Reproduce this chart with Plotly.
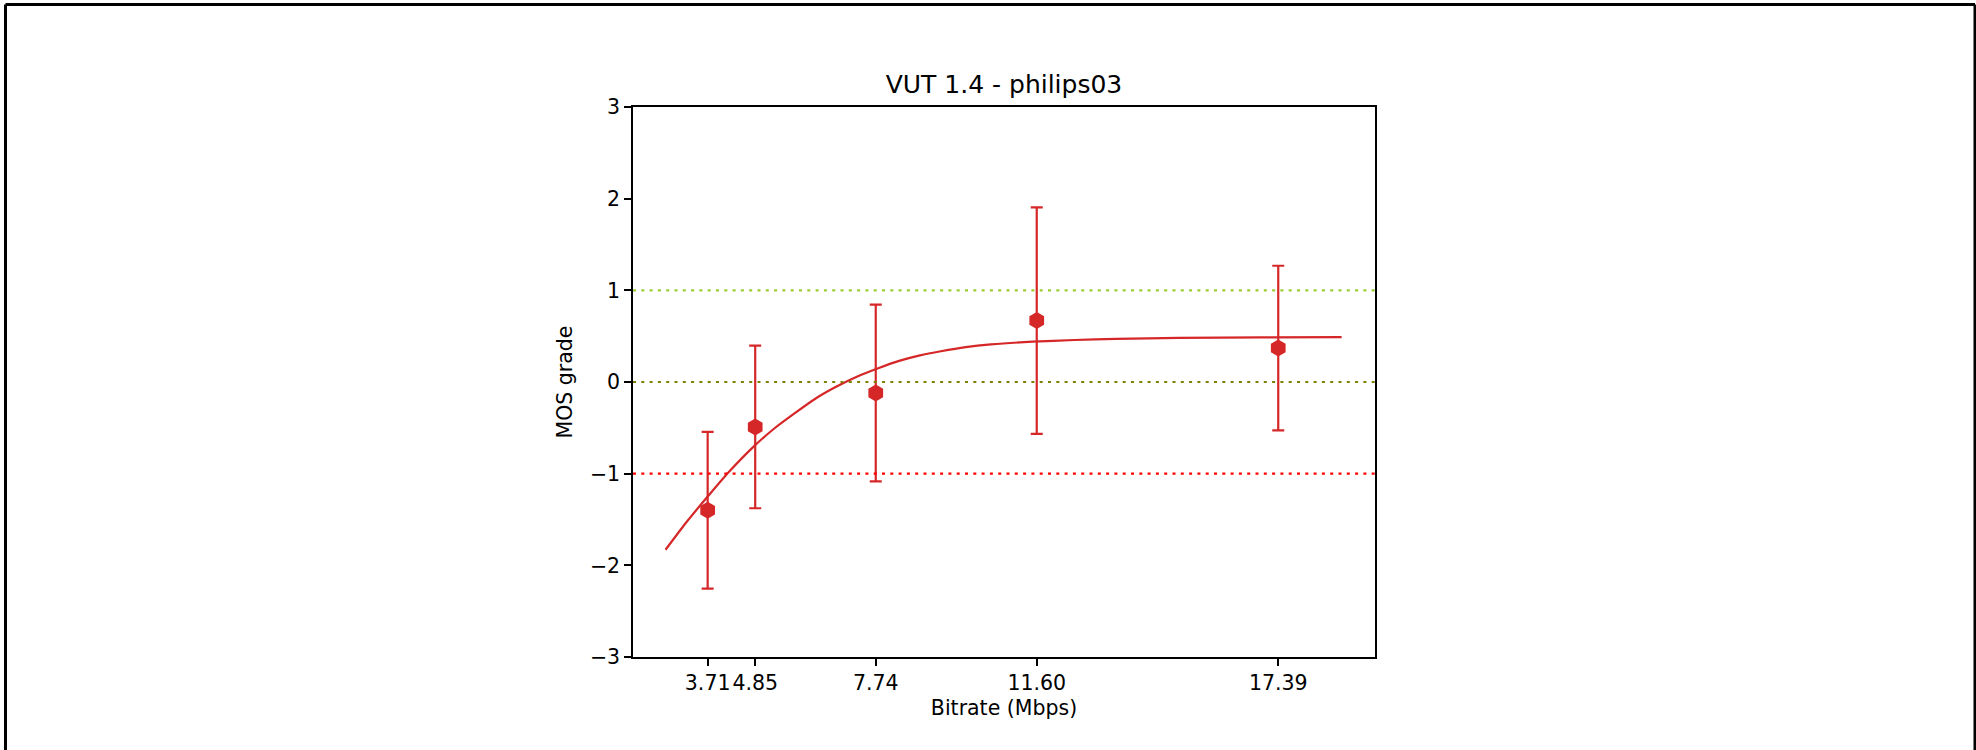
import plotly.graph_objects as go

# ---- data ----
bitrates = [3.71, 4.85, 7.74, 11.60, 17.39]
mos_mean = [-1.40, -0.49, -0.12, 0.67, 0.37]
mos_ci = [0.855, 0.887, 0.965, 1.235, 0.898]

fit_x = [2.70, 3.20, 3.71, 4.20, 4.80, 5.30, 5.80, 6.30, 6.80, 7.30, 7.80, 8.30,
         8.80, 9.30, 9.90, 10.50, 11.50, 12.50, 13.50, 15.00, 17.00, 18.91]
fit_y = [-1.83, -1.53, -1.25, -0.99, -0.71, -0.51, -0.34, -0.18, -0.05, 0.06, 0.15, 0.23,
         0.29, 0.335, 0.38, 0.41, 0.44, 0.458, 0.47, 0.481, 0.487, 0.49]

tick_labels = ["3.71", "4.85", "7.74", "11.60", "17.39"]
y_ticks = [-3, -2, -1, 0, 1, 2, 3]
y_tick_labels = ["\u22123", "\u22122", "\u22121", "0", "1", "2", "3"]

ref_levels = [1, 0, -1]
ref_colors = ["#9acd32", "#808000", "#ff0000"]

RED = "#d62728"
FONT = "DejaVu Sans"

W, H = 1976, 750
L, R, T, B = 633, 1375, 107, 657.5
X_RANGE = [1.92, 19.71]

fig = go.Figure()

fig.add_trace(go.Scatter(
    x=bitrates, y=mos_mean, mode="markers",
    marker=dict(symbol="hexagon", size=17, color=RED, line=dict(width=0)),
    error_y=dict(type="data", array=mos_ci, visible=True, color=RED, thickness=2.2, width=6),
    showlegend=False, hoverinfo="x+y",
))

fig.add_trace(go.Scatter(
    x=fit_x, y=fit_y, mode="lines",
    line=dict(color=RED, width=2.2, shape="spline", smoothing=0.6),
    showlegend=False,
))

for lvl, col in zip(ref_levels, ref_colors):
    fig.add_trace(go.Scatter(
        x=X_RANGE, y=[lvl, lvl], mode="lines",
        line=dict(color=col, width=2.2, dash="3px,5.3px"),
        showlegend=False, hoverinfo="skip",
    ))

axis_common = dict(
    showgrid=False, zeroline=False, showline=True, mirror=True,
    linecolor="black", linewidth=1.5,
    ticks="outside", ticklen=7, tickwidth=1.5, tickcolor="black",
    tickfont=dict(family=FONT, size=20.5, color="black"),
)

fig.update_xaxes(
    range=X_RANGE, tickmode="array", tickvals=bitrates, ticktext=tick_labels, tickangle=0,
    title=dict(text="Bitrate (Mbps)", font=dict(family=FONT, size=20.5, color="black"), standoff=6),
    **axis_common,
)
fig.update_yaxes(
    range=[-3, 3], tickmode="array", tickvals=y_ticks, ticktext=y_tick_labels,
    title=dict(text="MOS grade", font=dict(family=FONT, size=20.5, color="black"), standoff=12),
    **axis_common,
)

def px(p):
    return (p - L) / (R - L)

def py(p):
    return (B - p) / (B - T)

# outer frame of the figure
frame = dict(type="line", xref="paper", yref="paper", line=dict(color="black", width=3))
fig.add_shape(x0=px(5.5), x1=px(1975), y0=py(4.5), y1=py(4.5), **frame)
fig.add_shape(x0=px(5.5), x1=px(5.5), y0=py(4.5), y1=py(760), **frame)
fig.add_shape(x0=px(1975), x1=px(1975), y0=py(4.5), y1=py(760), **frame)

fig.update_layout(
    width=W, height=H,
    margin=dict(l=L, r=W - R, t=T, b=H - B, autoexpand=False),
    paper_bgcolor="white", plot_bgcolor="white",
    title=dict(text="VUT 1.4 - philips03", x=(L + R) / 2 / W, xanchor="center",
               y=1 - 84 / H, yanchor="middle", yref="container",
               font=dict(family=FONT, size=25, color="black")),
    font=dict(family=FONT, color="black"),
)

fig.write_html("out.html", config={"displayModeBar": False},
               post_script="document.body.style.margin='0';document.body.style.overflow='hidden';")
